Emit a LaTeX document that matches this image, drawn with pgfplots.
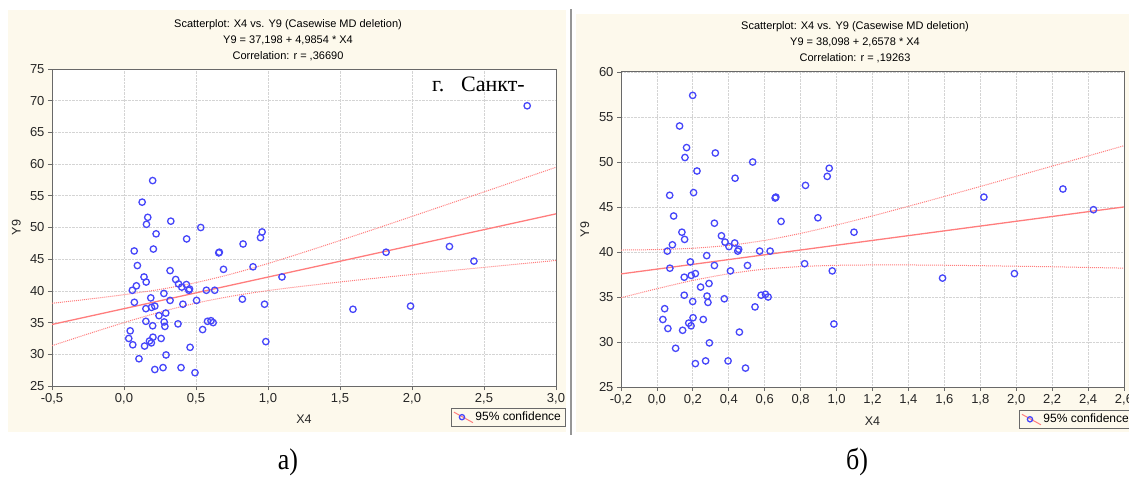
\documentclass[border=0pt]{standalone}
\usepackage{fontspec}
\setmainfont{Liberation Sans}
\newfontfamily\cyrserif{Liberation Serif}
\usepackage{pgfplots}
\usepackage{pgfplotstable}
\pgfplotsset{compat=1.18}

\definecolor{bgcream}{RGB}{253,249,236}
\definecolor{ptblue}{RGB}{70,70,250}
\definecolor{fitred}{RGB}{255,125,125}
\definecolor{framegray}{RGB}{105,105,105}
\definecolor{gridgray}{RGB}{212,212,212}
\definecolor{sepgray}{RGB}{150,150,150}

\newcommand\ticksz{\fontsize{13}{13}\selectfont}
\newcommand\labsz{\fontsize{12.5}{12.5}\selectfont}
\newcommand\legsz{\fontsize{12}{12}\selectfont}
\newcommand\titsz{\fontsize{11}{16}\selectfont}

% X4 / Y9 points without the outlier (panel b), outlier added in panel a
\pgfplotstableread{
x y
0.199 57.4
0.126 54.0
0.165 51.6
0.156 50.5
0.325 51.0
0.223 49.0
0.533 50.0
0.435 48.2
0.071 46.3
0.204 46.6
0.658 46.0
0.662 46.1
0.827 47.4
0.959 49.3
0.948 48.4
0.093 44.0
0.320 43.2
0.691 43.4
0.896 43.8
1.097 42.2
0.139 42.2
0.086 40.8
0.154 41.4
0.058 40.1
0.359 41.8
0.379 41.1
0.433 41.0
0.401 40.6
0.455 40.3
0.450 40.1
0.572 40.1
0.630 40.1
0.072 38.2
0.186 38.9
0.277 39.6
0.320 38.5
0.409 37.9
0.504 38.5
0.822 38.7
0.976 37.9
0.152 37.2
0.191 37.4
0.214 37.6
0.243 36.1
0.290 36.5
0.152 35.2
0.279 35.1
0.284 34.4
0.199 34.5
0.375 34.8
0.580 35.2
0.604 35.3
0.619 35.0
0.546 33.9
0.043 33.7
0.033 32.5
0.201 32.7
0.258 32.5
0.177 32.1
0.190 31.8
0.061 31.5
0.143 31.3
0.459 31.1
0.985 32.0
0.104 29.3
0.292 29.9
0.214 27.6
0.271 27.9
0.396 27.9
0.493 27.1
1.59 37.1
1.82 46.1
1.99 37.6
2.26 47.0
2.43 44.7
}\ptsb

\pgfplotstableread{
x y
2.80 69.2
}\outlier

% 95% confidence band, panel a
\pgfplotstableread{
x lo hi
-0.5 31.36 38.05
-0.25 33.21 38.69
0 35.00 39.40
0.25 36.65 40.24
0.5 38.07 41.31
0.75 39.18 42.69
1.0 40.05 44.32
1.25 40.76 46.10
1.5 41.41 47.95
1.75 42.01 49.83
2.0 42.59 51.75
2.25 43.16 53.68
2.5 43.71 55.61
2.75 44.26 57.56
3.0 44.80 59.50
}\banda

% 95% confidence band, panel b
\pgfplotstableread{
x lo hi
-0.2 34.92 40.22
0 35.92 40.27
0.2 36.84 40.42
0.4 37.58 40.74
0.6 38.10 41.29
0.8 38.38 42.07
1.0 38.52 43.00
1.2 38.56 44.01
1.4 38.56 45.08
1.6 38.53 46.17
1.8 38.48 47.28
2.0 38.42 48.41
2.2 38.36 49.54
2.4 38.28 50.67
2.6 38.21 51.81
}\bandb

\pgfplotsset{
  statpanel/.style={
    scale only axis,
    anchor=south west,
    axis background/.style={fill=white},
    axis line style={draw=framegray, line width=1pt},
    tick style={draw=framegray, line width=0.8pt},
    tick align=outside,
    major tick length=4pt,
    xtick pos=left, ytick pos=left,
    grid=major,
    grid style={densely dotted, draw=gridgray, line width=0.8pt},
    /pgf/number format/assume math mode=true,
    ticklabel style={font=\ticksz, text=black!85},
    xticklabel={\pgfmathprintnumber[fixed,fixed zerofill,precision=1,use comma]{\tick}},
    label style={font=\labsz, text=black!85},
    xlabel={X4}, ylabel={Y9},
    legend style={draw=framegray, fill=bgcream, font=\legsz,
      inner xsep=2pt, inner ysep=2pt, anchor=north east},
    legend image code/.code={
      \draw[fitred, line width=1pt] (0pt,5pt) -- (19pt,-5.5pt);
      \draw[ptblue, line width=1.3pt] (8pt,0pt) circle (2.6pt);
    },
  },
  pts/.style={only marks, mark=o, mark size=3.2pt,
    mark options={draw=ptblue, line width=1.3pt}},
  fit/.style={fitred, line width=1.3pt, forget plot},
  band/.style={fitred, densely dotted, line width=1pt, smooth, forget plot},
}

\begin{document}
\begin{tikzpicture}
\useasboundingbox (0,0) rectangle (1129pt,479pt);
\clip (0,0) rectangle (1129pt,479pt);
\fill[bgcream] (8pt,47pt) rectangle (566pt,469pt);
\fill[bgcream] (576pt,47pt) rectangle (1135pt,465pt);
\draw[sepgray, line width=1.2pt] (571pt,44pt) -- (571pt,470pt);

\begin{axis}[statpanel,
  at={(52pt,93pt)}, width=504pt, height=317pt,
  xmin=-0.5, xmax=3, ymin=25, ymax=75,
  xtick={-0.5,0,0.5,1,1.5,2,2.5,3},
  ytick={25,30,35,40,45,50,55,60,65,70,75},
  xlabel style={at={(axis description cs:0.5,-0.104)}, anchor=center},
  ylabel style={at={(axis description cs:-0.071,0.5)}, anchor=center},
  legend style={at={(axis description cs:1.018,-0.069)}},
]
\addplot[pts] table[x=x,y=y]{\ptsb};
\addplot[pts, forget plot] table[x=x,y=y]{\outlier};
\addplot[fit] coordinates {(-0.5,34.705) (3,52.154)};
\addplot[band] table[x=x,y=lo]{\banda};
\addplot[band] table[x=x,y=hi]{\banda};
\legend{95\% confidence}
\end{axis}

\begin{axis}[statpanel,
  at={(621pt,92pt)}, width=503pt, height=315pt,
  xmin=-0.2, xmax=2.6, ymin=25, ymax=60,
  xtick={-0.2,0,0.2,0.4,0.6,0.8,1,1.2,1.4,1.6,1.8,2,2.2,2.4,2.6},
  ytick={25,30,35,40,45,50,55,60},
  xlabel style={at={(axis description cs:0.5,-0.108)}, anchor=center},
  ylabel style={at={(axis description cs:-0.072,0.5)}, anchor=center},
  legend style={at={(axis description cs:1.018,-0.073)}},
]
\addplot[pts] table[x=x,y=y]{\ptsb};
\addplot[fit] coordinates {(-0.2,37.566) (2.6,45.008)};
\addplot[band] table[x=x,y=lo]{\bandb};
\addplot[band] table[x=x,y=hi]{\bandb};
\legend{95\% confidence}
\end{axis}

\node[align=center, font=\titsz] at (288pt,439pt)
  {Scatterplot: X4 vs. Y9 (Casewise MD deletion)\\Y9 = 37,198 + 4,9854 * X4\\Correlation: r = ,36690};
\node[align=center, font=\titsz] at (855pt,437pt)
  {Scatterplot: X4 vs. Y9 (Casewise MD deletion)\\Y9 = 38,098 + 2,6578 * X4\\Correlation: r = ,19263};

\node[anchor=base west, inner sep=0pt, font=\cyrserif\fontsize{22}{22}\selectfont]
  at (432pt,387pt) {г.\hspace{17pt}Санкт-};

\node[font=\cyrserif\fontsize{26}{26}\selectfont, yscale=1.15, transform shape] at (288pt,17pt) {а)};
\node[font=\cyrserif\fontsize{26}{26}\selectfont, yscale=1.15, transform shape] at (857pt,17pt) {б)};
\end{tikzpicture}
\end{document}
